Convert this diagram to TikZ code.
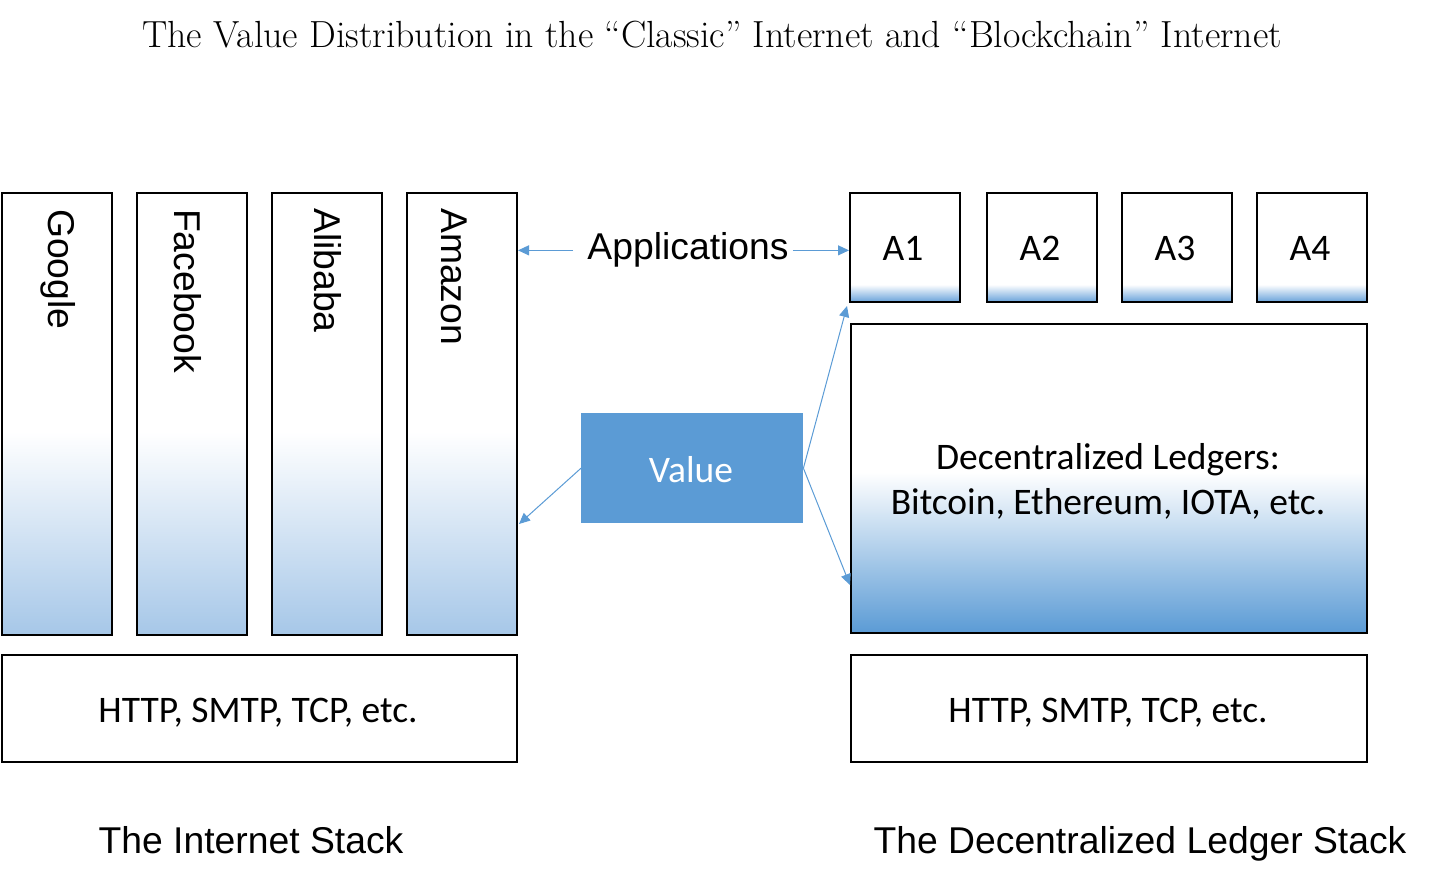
\documentclass[tikz,border=0pt]{standalone}
\usepackage{fontspec}
\newfontfamily\arialfont{Liberation Sans}
\newfontfamily\calfont{Carlito}
\usetikzlibrary{arrows.meta,calc}
\definecolor{accent}{RGB}{91,155,213}
\definecolor{colblue}{RGB}{166,199,232}
\definecolor{abot}{RGB}{104,162,218}
\pgfdeclareverticalshading{colshade}{100bp}{color(0bp)=(colblue); color(25bp)=(colblue); color(48bp)=(white); color(100bp)=(white)}
\pgfdeclareverticalshading{ledgershade}{100bp}{color(0bp)=(accent); color(25bp)=(accent); color(51bp)=(white); color(100bp)=(white)}
\pgfdeclareverticalshading{appshade}{100bp}{color(0bp)=(abot); color(25bp)=(abot); color(33bp)=(white); color(100bp)=(white)}
\tikzset{
  box/.style={draw=black, line width=2pt, inner sep=0pt, anchor=north west},
  colbox/.style={box, minimum width=110pt, minimum height=442pt, shade, shading=colshade},
  appbox/.style={box, minimum width=110pt, minimum height=109pt, shade, shading=appshade},
  protobox/.style={box, minimum height=107pt},
  arialtxt/.style={font=\arialfont\fontsize{37.3}{44}\selectfont, inner sep=0pt},
  caltxt/.style={font=\calfont\fontsize{37.5}{45}\selectfont, inner sep=0pt},
  vert/.style={arialtxt, rotate=-90, anchor=base west},
  arr/.style={draw=accent, line width=1pt, -{Triangle[length=11pt,width=10pt]}},
}
\begin{document}
\begin{tikzpicture}[x=1pt,y=-1pt]
\useasboundingbox (0,0) rectangle (1432,885);
% title
\node[font=\fontsize{37.8}{44}\selectfont, inner sep=0pt, anchor=base] (title) at (712,48)
  {The Value Distribution in the “Classic” Internet and “Blockchain” Internet};
% left columns
\node[colbox] (google) at (1,192) {};
\node[colbox] (facebook) at (136,192) {};
\node[colbox] (alibaba) at (271,192) {};
\node[colbox] (amazon) at (406,192) {};
\node[vert] (googlet) at (48,209) {Google};
\node[vert] (facebookt) at (174,209) {Facebook};
\node[vert] (alibabat) at (314,208) {Alibaba};
\node[vert] (amazont) at (441,208) {Amazon};
% protocol boxes
\node[protobox, minimum width=515pt] (http1) at (1,654) {};
\node[caltxt, anchor=base] (http1t) at (258,722) {HTTP, SMTP, TCP, etc.};
\node[protobox, minimum width=516pt] (http2) at (850,654) {};
\node[caltxt, anchor=base] (http2t) at (1108,722) {HTTP, SMTP, TCP, etc.};
% app boxes
\node[appbox] (a1) at (849,192) {};
\node[appbox] (a2) at (986,192) {};
\node[appbox] (a3) at (1121,192) {};
\node[appbox] (a4) at (1256,192) {};
\node[caltxt, anchor=base] (a1t) at (903,261) {A1};
\node[caltxt, anchor=base] (a2t) at (1040,261) {A2};
\node[caltxt, anchor=base] (a3t) at (1175,261) {A3};
\node[caltxt, anchor=base] (a4t) at (1310,261) {A4};
% ledger
\node[box, minimum width=516pt, minimum height=309pt, shade, shading=ledgershade] (ledger) at (850,323) {};
\node[caltxt, anchor=base] (ledgert1) at (1108,469) {Decentralized Ledgers:};
\node[caltxt, anchor=base] (ledgert2) at (1108,514) {Bitcoin, Ethereum, IOTA, etc.};
% value
\node[fill=accent, minimum width=222pt, minimum height=110pt, inner sep=0pt, anchor=north west] (value) at (581,413) {};
\node[caltxt, text=white, anchor=base] (valuet) at (691,482) {Value};
% applications
\node[arialtxt, anchor=base] (app) at (688,260) {Applications};
\draw[arr] ([xshift=-14pt]app.west) -- (app.west -| amazon.east);
\draw[arr] ([xshift=4pt]app.east) -- (app.east -| a1.west);
\draw[arr] (value.west) -- ($(amazon.south east)+(1,-112)$);
\draw[arr] (value.east) -- ($(a1.south west)+(-2,3)$);
\draw[arr] (value.east) -- ($(ledger.south west)+(0,-49)$);
% stack labels
\node[arialtxt, anchor=base] (leftlbl) at (251,853) {The Internet Stack};
\node[arialtxt, anchor=base] (rightlbl) at (1140,853) {The Decentralized Ledger Stack};
\end{tikzpicture}
\end{document}
